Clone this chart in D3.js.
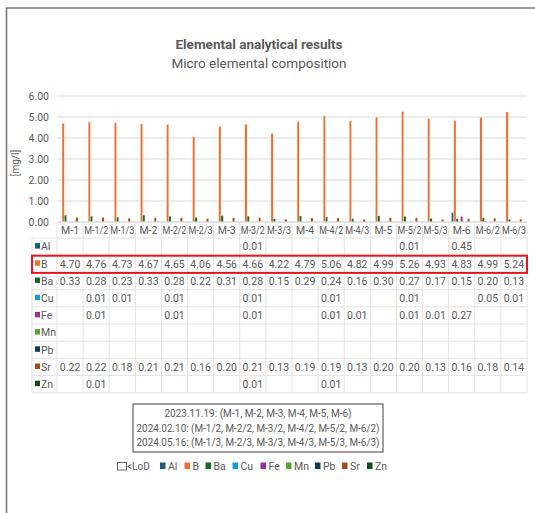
<!DOCTYPE html>
<html>
<head>
<meta charset="utf-8">
<script src="https://cdn.jsdelivr.net/npm/d3@7"></script>
<style>
html,body{margin:0;padding:0;background:#fff;}
svg{display:block;font-family:Roboto, "Noto Sans", sans-serif;}
</style>
</head>
<body>
<svg id="chart" width="535" height="513"></svg>
<script>
const categories = ["M-1","M-1/2","M-1/3","M-2","M-2/2","M-2/3","M-3","M-3/2","M-3/3","M-4","M-4/2","M-4/3","M-5","M-5/2","M-5/3","M-6","M-6/2","M-6/3"];
const seriesNames = ["Al","B","Ba","Cu","Fe","Mn","Pb","Sr","Zn"];
const seriesColors = ["#156082","#E97132","#196B24","#0F9ED5","#A02B93","#4EA72E","#0C3A52","#A34A18","#0F4D1A"];
const Al = [null,null,null,null,null,null,null,0.01,null,null,null,null,null,0.01,null,0.45,null,null];
const B  = [4.70,4.76,4.73,4.67,4.65,4.06,4.56,4.66,4.22,4.79,5.06,4.82,4.99,5.26,4.93,4.83,4.99,5.24];
const Ba = [0.33,0.28,0.23,0.33,0.28,0.22,0.31,0.28,0.15,0.29,0.24,0.16,0.30,0.27,0.17,0.15,0.20,0.13];
const Cu = [null,0.01,0.01,null,0.01,null,null,0.01,null,null,0.01,null,null,0.01,null,null,0.05,0.01];
const Fe = [null,0.01,null,null,0.01,null,null,0.01,null,null,0.01,0.01,null,0.01,0.01,0.27,null,null];
const Mn = [null,null,null,null,null,null,null,null,null,null,null,null,null,null,null,null,null,null];
const Pb = [null,null,null,null,null,null,null,null,null,null,null,null,null,null,null,null,null,null];
const Sr = [0.22,0.22,0.18,0.21,0.21,0.16,0.20,0.21,0.13,0.19,0.19,0.13,0.20,0.20,0.13,0.16,0.18,0.14];
const Zn = [null,0.01,null,null,null,null,null,0.01,null,null,0.01,null,null,null,null,null,null,null];
const yTicks = [0,1,2,3,4,5,6];
const title = "Elemental analytical results";
const subtitle = "Micro elemental composition";
const notes = ["2023.11.19: (M-1, M-2, M-3, M-4, M-5, M-6)",
               "2024.02.10: (M-1/2, M-2/2, M-3/2, M-4/2, M-5/2, M-6/2)",
               "2024.05.16: (M-1/3, M-2/3, M-3/3, M-4/3, M-5/3, M-6/3)"];
const lodLabel = "<LoD";
const yLabel = "[mg/l]";

const seriesData = [Al,B,Ba,Cu,Fe,Mn,Pb,Sr,Zn];
const svg = d3.select("#chart");
const txt = "#595959";

// outer frame
svg.append("path").attr("d","M6.5,513 V8 H535").attr("fill","none").attr("stroke","#7a7a7a").attr("stroke-width",1.6);

// titles
svg.append("text").attr("x",259).attr("y",49).attr("text-anchor","middle")
  .attr("font-size",13.5).attr("font-weight",700).attr("fill",txt).text(title);
svg.append("text").attr("x",259).attr("y",68).attr("text-anchor","middle")
  .attr("font-size",13.5).attr("fill",txt).text(subtitle);

const plotL = 57, plotR = 527, plotT = 96, plotB = 222;
const x = d3.scaleBand().domain(categories).range([plotL, plotR]);
const y = d3.scaleLinear().domain([0,6]).range([plotB, plotT]);
const xs = d3.scaleBand().domain(seriesNames).range([0, x.bandwidth()]).paddingOuter(1.2);

// gridlines
svg.append("g").selectAll("line").data(yTicks).join("line")
  .attr("x1",plotL).attr("x2",plotR).attr("y1",d=>y(d)).attr("y2",d=>y(d))
  .attr("stroke","#d9d9d9").attr("stroke-width",1);

// y axis labels
const yAxis = d3.axisLeft(y).tickValues(yTicks).tickFormat(d3.format(".2f")).tickSize(0).tickPadding(0);
const gy = svg.append("g").attr("transform",`translate(49,0)`).call(yAxis);
gy.select(".domain").remove();
gy.selectAll("text").attr("font-size",10.5).attr("fill",txt).attr("font-family","Roboto, sans-serif");

svg.append("text").attr("transform",`translate(19,${(plotT+plotB)/2+4}) rotate(-90)`)
  .attr("text-anchor","middle").attr("font-size",10).attr("fill",txt).text(yLabel);

// bars
seriesNames.forEach((s,si)=>{
  svg.append("g").selectAll("rect").data(seriesData[si].map((v,i)=>({v,c:categories[i]})).filter(d=>d.v!=null))
    .join("rect")
    .attr("x",d=>x(d.c)+xs(s))
    .attr("width",xs.bandwidth())
    .attr("y",d=>y(d.v))
    .attr("height",d=>plotB-y(d.v))
    .attr("fill",seriesColors[si])
    .attr("stroke","#fff").attr("stroke-width",0.3);
});

// data table
const tableL = 32, headerB = 238, rowH = 17.2;
const rowsB = headerB + rowH*seriesNames.length;
const tg = svg.append("g");
tg.append("line").attr("x1",plotL).attr("x2",plotR).attr("y1",plotB).attr("y2",plotB).attr("stroke","#d9d9d9");
for(let r=0;r<=seriesNames.length;r++){
  const yy = headerB + r*rowH;
  tg.append("line").attr("x1",tableL).attr("x2",plotR).attr("y1",yy).attr("y2",yy).attr("stroke","#e3e3e3");
}
const vx = categories.map(c=>x(c)).concat([plotR]);
tg.selectAll("line.v").data(vx).join("line").attr("class","v")
  .attr("x1",d=>d).attr("x2",d=>d).attr("y1",plotB).attr("y2",rowsB).attr("stroke","#e3e3e3");
tg.append("line").attr("x1",tableL).attr("x2",tableL).attr("y1",headerB).attr("y2",rowsB).attr("stroke","#e3e3e3");

// header labels
tg.selectAll("text.h").data(categories).join("text").attr("class","h")
  .attr("x",d=>x(d)+x.bandwidth()/2).attr("y",headerB-4.5).attr("text-anchor","middle")
  .attr("font-size",10.5).attr("fill",txt)
  .attr("textLength",d=>d.length>3?24:null).attr("lengthAdjust","spacingAndGlyphs")
  .text(d=>d);

// row labels and values
const fmt = d3.format(".2f");
seriesNames.forEach((s,si)=>{
  const cy = headerB + si*rowH + rowH/2;
  tg.append("rect").attr("x",tableL+3).attr("y",cy-3.5).attr("width",5).attr("height",5.5).attr("fill",seriesColors[si]);
  tg.append("text").attr("x",tableL+9).attr("y",cy+3.8).attr("font-size",10.5).attr("fill",txt).text(s);
  tg.selectAll(null).data(seriesData[si].map((v,i)=>({v,c:categories[i]})).filter(d=>d.v!=null))
    .join("text").attr("x",d=>x(d.c)+x.bandwidth()/2).attr("y",cy+3.8).attr("text-anchor","middle")
    .attr("font-size",10.5).attr("fill",txt).text(d=>fmt(d.v));
});
const bi = seriesNames.indexOf("B");
tg.append("rect").attr("x",tableL).attr("y",headerB+bi*rowH+0.5).attr("width",plotR-tableL).attr("height",rowH)
  .attr("fill","none").attr("stroke","#e8141b").attr("stroke-width",2);

// notes box
svg.append("rect").attr("x",133).attr("y",404).attr("width",250).attr("height",48)
  .attr("fill","#fff").attr("stroke","#404040").attr("stroke-width",1);
svg.append("g").selectAll("text").data(notes).join("text")
  .attr("x",258).attr("y",(d,i)=>417+i*14.6).attr("text-anchor","middle")
  .attr("font-size",10.8).attr("fill",txt)
  .attr("textLength",(d,i)=>i===0?187:243).attr("lengthAdjust","spacingAndGlyphs")
  .text(d=>d);

// legend
const lg = svg.append("g");
lg.append("rect").attr("x",117.5).attr("y",462.5).attr("width",9).attr("height",7.5).attr("fill","#fff").attr("stroke","#555").attr("stroke-width",0.9);
lg.append("text").attr("x",127).attr("y",470).attr("font-size",10).attr("fill",txt).text(lodLabel);
const legendX = [160,184.5,205.5,232.5,260.5,286,315,342,367];
seriesNames.forEach((s,si)=>{
  lg.append("rect").attr("x",legendX[si]).attr("y",462.5).attr("width",5.5).attr("height",6.5).attr("fill",seriesColors[si]);
  lg.append("text").attr("x",legendX[si]+8).attr("y",470).attr("font-size",10.5).attr("fill",txt).text(s);
});
</script>
</body>
</html>
